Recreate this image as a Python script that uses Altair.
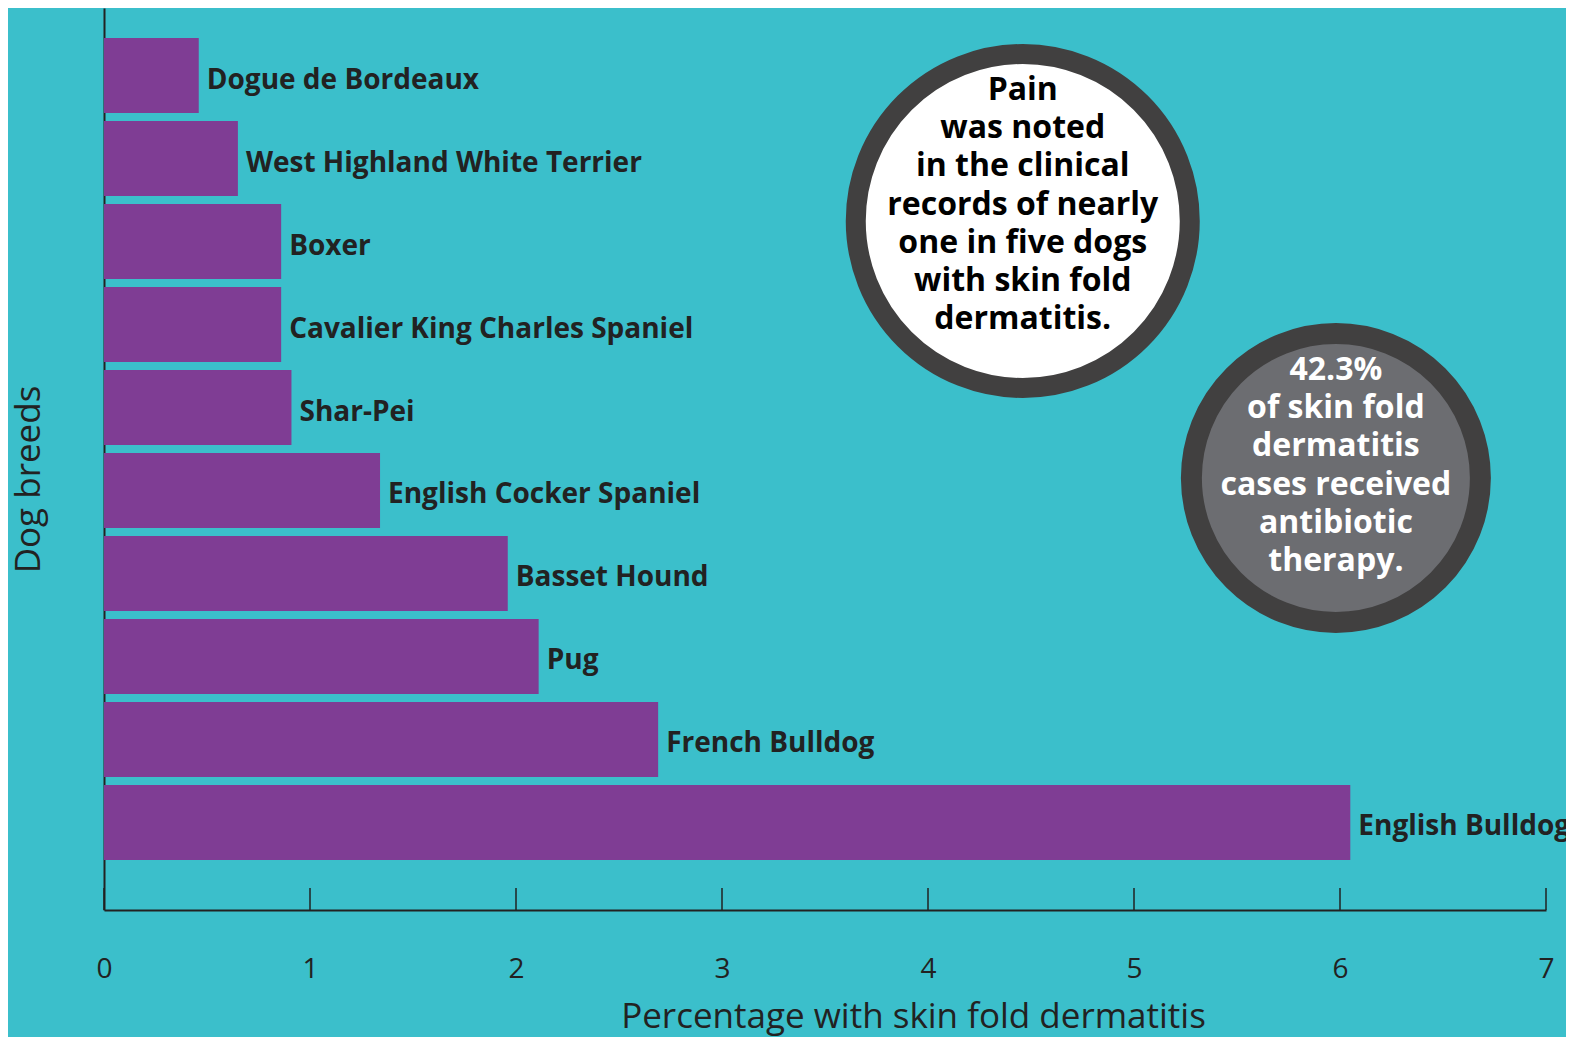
import altair as alt
import pandas as pd

# ---- data ----
breeds = [
    "Dogue de Bordeaux",
    "West Highland White Terrier",
    "Boxer",
    "Cavalier King Charles Spaniel",
    "Shar-Pei",
    "English Cocker Spaniel",
    "Basset Hound",
    "Pug",
    "French Bulldog",
    "English Bulldog",
]
percent = [0.46, 0.65, 0.86, 0.86, 0.91, 1.34, 1.96, 2.11, 2.69, 6.05]
tick_values = [0, 1, 2, 3, 4, 5, 6, 7]

note1_text = "Pain\nwas noted\nin the clinical\nrecords of nearly\none in five dogs\nwith skin fold\ndermatitis."
note2_text = "42.3%\nof skin fold\ndermatitis\ncases received\nantibiotic\ntherapy."

BG = "#3BBFCB"
PURPLE = "#7F3D94"
INK = "#222222"
RING = "#414040"
GREY = "#6C6D71"
FONT = "Open Sans"

W, H = 1442, 902

df = pd.DataFrame({"breed": breeds, "pct": percent})
ticks_df = pd.DataFrame({"pct": tick_values})
note1_df = pd.DataFrame({"pct": [4.46], "label": [note1_text]})
note2_df = pd.DataFrame({"pct": [5.98], "label": [note2_text]})

x_scale = alt.Scale(domain=[0, 7], nice=False, zero=True)
y_scale = alt.Scale(paddingInner=0.096, paddingOuter=0.482, align=0.375)

x_axis = alt.Axis(
    values=tick_values,
    format="d",
    ticks=False,
    grid=False,
    domainColor=INK,
    domainWidth=2,
    labelFont=FONT,
    labelFontSize=28,
    labelColor=INK,
    labelPadding=67,
    labelBaseline="alphabetic",
    labelFlush=False,
    title="Percentage with skin fold dermatitis",
    titleFont=FONT,
    titleFontSize=35,
    titleFontWeight="normal",
    titleColor=INK,
    titleX=809,
    titleY=117,
    titleAlign="center",
    titleBaseline="alphabetic",
)

y_axis = alt.Axis(
    labels=False,
    ticks=False,
    grid=False,
    domainColor=INK,
    domainWidth=2,
    title="Dog breeds",
    titleFont=FONT,
    titleFontSize=35,
    titleFontWeight="normal",
    titleColor=INK,
    titleAngle=270,
    titleX=-65,
    titleY=471,
    titleAlign="center",
    titleBaseline="alphabetic",
)

bars = alt.Chart(df).mark_bar(color=PURPLE).encode(
    x=alt.X("pct:Q", scale=x_scale, axis=x_axis),
    y=alt.Y("breed:N", sort=breeds, scale=y_scale, axis=y_axis),
)

labels = alt.Chart(df).mark_text(
    align="left", baseline="middle", dx=8, dy=5,
    font=FONT, fontSize=28, fontWeight="bold", color=INK,
).encode(
    x=alt.X("pct:Q"),
    y=alt.Y("breed:N", sort=breeds),
    text="breed:N",
)

tick_marks = alt.Chart(ticks_df).mark_rule(color=INK, strokeWidth=1.5).encode(
    x=alt.X("pct:Q"),
    y=alt.value(H - 22),
    y2=alt.value(H),
)

ring1 = alt.Chart(note1_df).mark_point(
    shape="circle", filled=True, fill="white", fillOpacity=1,
    stroke=RING, strokeWidth=20, strokeOpacity=1, opacity=1, size=334 ** 2,
).encode(x=alt.X("pct:Q"), y=alt.value(213))

text1 = alt.Chart(note1_df).mark_text(
    align="center", baseline="middle", lineBreak="\n", lineHeight=38.2,
    font=FONT, fontSize=32, fontWeight="bold", color="black",
).encode(x=alt.X("pct:Q"), y=alt.value(82), text="label:N")

ring2 = alt.Chart(note2_df).mark_point(
    shape="circle", filled=True, fill=GREY, fillOpacity=1,
    stroke=RING, strokeWidth=21, strokeOpacity=1, opacity=1, size=289 ** 2,
).encode(x=alt.X("pct:Q"), y=alt.value(470))

text2 = alt.Chart(note2_df).mark_text(
    align="center", baseline="middle", lineBreak="\n", lineHeight=38.2,
    font=FONT, fontSize=32, fontWeight="bold", color="white",
).encode(x=alt.X("pct:Q"), y=alt.value(362), text="label:N")

chart = alt.layer(bars, labels, tick_marks, ring1, text1, ring2, text2).properties(
    width=W,
    height=H,
    background=BG,
    padding={"left": 96, "top": 0, "right": 20, "bottom": 127},
    autosize=alt.AutoSizeParams(type="none"),
).configure_view(stroke=None)

chart.save("out.html", embed_options={"renderer": "svg", "actions": False})
